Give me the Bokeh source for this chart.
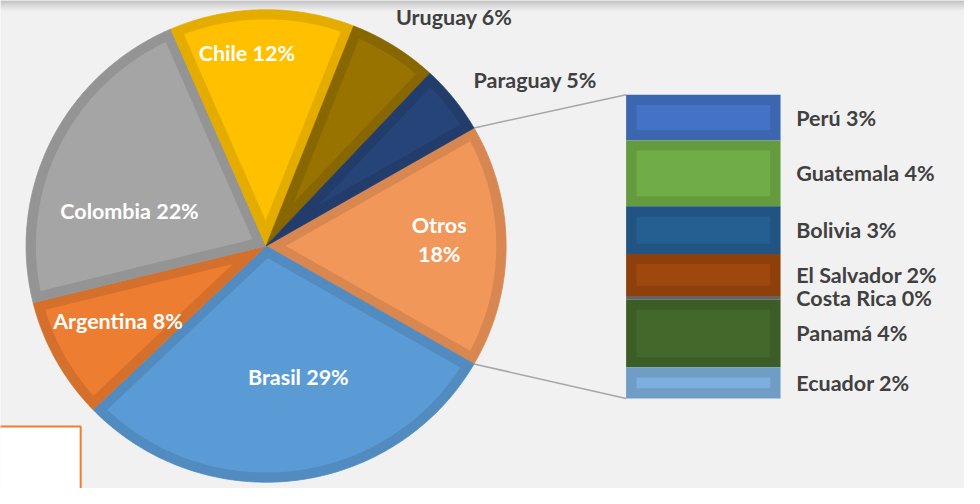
import numpy as np
from bokeh.plotting import figure
from bokeh.models import Range1d
from bokeh.core.properties import value
from bokeh.embed import file_html
from bokeh.resources import INLINE

# ---------------- data ----------------
main_names = ["Brasil", "Argentina", "Colombia", "Chile", "Uruguay", "Paraguay"]
main_values = [29.4, 8.3, 22.3, 12.4, 6.0, 4.7]
main_labels = ["Brasil 29%", "Argentina 8%", "Colombia 22%", "Chile 12%", "Uruguay 6%", "Paraguay 5%"]
other_name = "Otros"
other_label_lines = ["Otros", "18%"]
sec_names = ["Perú", "Guatemala", "Bolivia", "El Salvador", "Costa Rica", "Panamá", "Ecuador"]
sec_values = [2.5, 3.6, 2.6, 2.3, 0.2, 3.7, 1.7]
sec_labels = ["Perú 3%", "Guatemala 4%", "Bolivia 3%", "El Salvador 2%", "Costa Rica 0%", "Panamá 4%", "Ecuador 2%"]

# ---------------- styles / layout (reference pixel units) ----------------
main_colors = ["#5B9BD5", "#ED7D31", "#A5A5A5", "#FFC000", "#997300", "#264478"]
other_color = "#F1975A"
sec_colors = ["#4472C4", "#70AD47", "#255E91", "#9E480E", "#636363", "#43682B", "#7CAFDD"]
main_label_colors = ["white", "white", "white", "white", "#404040", "#404040"]
# label placement (angle in degrees, distance from pie centre)
label_polar = {"Brasil": (-76.4, 139.4), "Argentina": (207.2, 169.3), "Colombia": (165.5, 143.4),
               "Chile": (95.6, 200.0), "Uruguay": (51.1, 304.5), "Paraguay": (32.0, 322.7),
               "Otros": (2.1, 176.1)}
OTROS_LINE_GAP = 29.5

VW, VH = 980, 504          # virtual canvas (reference pixels)
W, H = 964, 488            # figure size
CX, CY, R = 270.0, 250.5, 244.0
PIE_INSET = 10.0
BAR_X0, BAR_X1 = 636.0, 793.0
BAR_TOP_Y, BAR_BOT_Y = 406.7, 93.0
BAR_INSET = 10.5
SEC_LABEL_X = 809.0
BG = "#F1F1F1"
FONT = value("Lato")
FS = "21.5px"


def darken(hexc, f=0.9):
    h = hexc.lstrip("#")
    r, g, b = (int(h[i:i + 2], 16) for i in (0, 2, 4))
    return "#%02x%02x%02x" % (int(r * f), int(g * f), int(b * f))


def wedge_poly(a1, a2, r):
    ang = np.linspace(a1, a2, 120)
    return [CX] + list(CX + r * np.cos(ang)), [CY] + list(CY + r * np.sin(ang))


def inset_wedge(a1, a2, r, d):
    half = (a2 - a1) / 2.0
    bis = (a1 + a2) / 2.0
    apex_r = d / np.sin(half)
    rho = r - d
    delta = np.arcsin(d / rho)
    ang = np.linspace(a1 + delta, a2 - delta, 120)
    xs = [CX + apex_r * np.cos(bis)] + list(CX + rho * np.cos(ang))
    ys = [CY + apex_r * np.sin(bis)] + list(CY + rho * np.sin(ang))
    return xs, ys


p = figure(width=W, height=H, output_backend="svg", toolbar_location=None,
           x_range=Range1d(0, VW), y_range=Range1d(0, VH), min_border=0,
           background_fill_color=BG, border_fill_color=BG)
p.axis.visible = False
p.grid.visible = False
p.outline_line_color = None

# bar-of-pie value scale (values increase downward)
other_total = sum(sec_values)
ppu = (BAR_TOP_Y - BAR_BOT_Y) / other_total
p.extra_y_ranges = {"bar": Range1d(start=other_total + BAR_BOT_Y / ppu,
                                   end=-(VH - BAR_TOP_Y) / ppu)}

# top shadow
n_sh = 12
for i in range(n_sh):
    g = int(150 + (241 - 150) * ((i + 1) / n_sh) ** 0.55)
    p.quad(left=0, right=VW, top=VH - i, bottom=VH - i - 1,
           fill_color="#%02x%02x%02x" % (g, g, g), line_color=None)

# ---------------- pie ----------------
total = sum(main_values) + other_total
per = 2 * np.pi / total
oa1, oa2 = -other_total * per / 2, other_total * per / 2

wedges = [(other_name, oa1, oa2, other_color)]
cur = oa1
for n, v, c in zip(main_names, main_values, main_colors):
    s = cur - v * per
    wedges.append((n, s, cur, c))
    cur = s

# connectors
p.segment(x0=[CX + R * np.cos(oa2), CX + R * np.cos(oa1)],
          y0=[CY + R * np.sin(oa2), CY + R * np.sin(oa1)],
          x1=[BAR_X0, BAR_X0], y1=[BAR_TOP_Y, BAR_BOT_Y],
          line_color="#A6A6A6", line_width=1.5)

for n, s, e, c in wedges:
    xs, ys = wedge_poly(s, e, R)
    p.patch(xs, ys, fill_color=darken(c), line_color=darken(c), line_width=0.8)
    xs, ys = inset_wedge(s, e, R, PIE_INSET)
    p.patch(xs, ys, fill_color=c, line_color=None)

# pie labels
lx, ly, lt, lc = [], [], [], []
for n, lab, col in zip(main_names, main_labels, main_label_colors):
    a, dist = label_polar[n]
    lx.append(CX + dist * np.cos(np.radians(a)))
    ly.append(CY + dist * np.sin(np.radians(a)))
    lt.append(lab)
    lc.append(col)
a, dist = label_polar[other_name]
ox, oy = CX + dist * np.cos(np.radians(a)), CY + dist * np.sin(np.radians(a))
for k, line in enumerate(other_label_lines):
    lx.append(ox)
    ly.append(oy + OTROS_LINE_GAP * (0.5 - k))
    lt.append(line)
    lc.append("white")
p.text(x=lx, y=ly, text=lt, text_color=lc, text_font=FONT, text_font_style="bold",
       text_font_size=FS, text_align="center", text_baseline="middle")

# ---------------- secondary bar ----------------
cum = np.concatenate([[0.0], np.cumsum(sec_values)])
tops, bots = cum[:-1], cum[1:]
p.quad(left=BAR_X0, right=BAR_X1, top=tops, bottom=bots, y_range_name="bar",
       fill_color=[darken(c) if n != "Costa Rica" else c for n, c in zip(sec_names, sec_colors)],
       line_color=None)
ins_u = BAR_INSET / ppu
keep = [i for i, v in enumerate(sec_values) if v > 2 * ins_u]
p.quad(left=BAR_X0 + BAR_INSET, right=BAR_X1 - BAR_INSET,
       top=[tops[i] + ins_u for i in keep], bottom=[bots[i] - ins_u for i in keep],
       y_range_name="bar", fill_color=[sec_colors[i] for i in keep], line_color=None)

p.text(x=SEC_LABEL_X, y=(tops + bots) / 2, text=sec_labels, y_range_name="bar",
       text_color="#404040", text_font=FONT, text_font_style="bold", text_font_size=FS,
       text_align="left", text_baseline="middle")

# bottom-left box
p.quad(left=-10, right=81.5, top=64, bottom=-10, fill_color="white",
       line_color="#ED7D31", line_width=2)

open("out.html", "w").write(file_html(p, INLINE))
